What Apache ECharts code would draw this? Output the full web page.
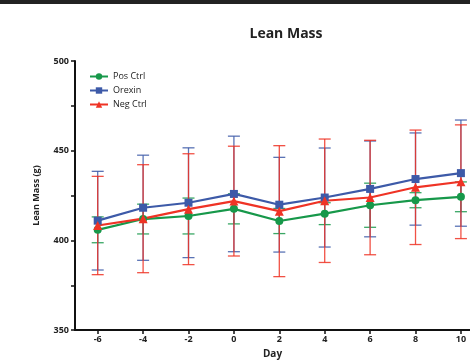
<!DOCTYPE html>
<html><head><meta charset="utf-8">
<script src="https://cdn.jsdelivr.net/npm/echarts@6/dist/echarts.min.js"></script>
<style>html,body{margin:0;padding:0;background:#fff}#c{width:470px;height:364px}</style>
</head><body><div id="c"></div>
<script>
var days = [-6, -4, -2, 0, 2, 4, 6, 8, 10];
var xTicks = [-6, -4, -2, 0, 2, 4, 6, 8, 10];
var yTicks = [350, 400, 450, 500];
var posCtrl = [405.9, 411.9, 413.6, 417.6, 410.8, 414.9, 419.6, 422.4, 424.3];
var posCtrlSd = [7.2, 8.3, 10.0, 8.4, 7.0, 6.1, 12.3, 4.2, 8.3];
var orexin = [411.0, 418.2, 421.0, 425.9, 419.9, 423.9, 428.7, 434.2, 437.5];
var orexinSd = [27.5, 29.3, 30.6, 32.2, 26.4, 27.6, 26.7, 25.7, 29.6];
var negCtrl = [408.3, 412.1, 417.4, 421.9, 416.3, 422.1, 423.9, 429.6, 432.7];
var negCtrlSd = [27.4, 30.1, 30.9, 30.6, 36.5, 34.4, 31.9, 31.9, 31.7];

var cGreen = '#17984a', cBlue = '#3d5aa8', cRed = '#ef3325';

function pts(v){ return days.map(function(d,i){ return [d, v[i]]; }); }
function errData(v, sd){ return days.map(function(d,i){ return [d, v[i]-sd[i], v[i]+sd[i]]; }); }
function errSeries(name, v, sd, color){
  return {
    type: 'custom', name: name + ' err', z: 1, silent: true,
    data: errData(v, sd),
    encode: { x: 0, y: [1, 2] },
    renderItem: function(params, api){
      var x = api.value(0);
      var lo = api.coord([x, api.value(1)]);
      var hi = api.coord([x, api.value(2)]);
      var w = 6;
      var st = { stroke: color, lineWidth: 1.3, opacity: 0.85 };
      return { type: 'group', children: [
        { type: 'line', shape: { x1: lo[0], y1: lo[1], x2: hi[0], y2: hi[1] }, style: st },
        { type: 'line', shape: { x1: lo[0]-w, y1: lo[1], x2: lo[0]+w, y2: lo[1] }, style: st },
        { type: 'line', shape: { x1: hi[0]-w, y1: hi[1], x2: hi[0]+w, y2: hi[1] }, style: st }
      ]};
    }
  };
}
function lineSeries(name, v, color, symbol, size){
  return { type: 'line', name: name, z: 3, data: pts(v), symbol: symbol, symbolSize: size,
    lineStyle: { color: color, width: 2.2 }, itemStyle: { color: color }, animation: false };
}

var chart = echarts.init(document.getElementById('c'));
chart.setOption({
  animation: false,
  title: { text: 'Lean Mass', left: 281, top: 22, textAlign: 'center',
    textStyle: { fontFamily: 'Open Sans', fontWeight: 'bold', fontSize: 14, color: '#222' } },
  graphic: [{ type: 'rect', shape: { x: 0, y: 0, width: 470, height: 4 }, style: { fill: '#222' } }],
  legend: { left: 84, top: 67, orient: 'vertical', itemGap: 5, itemWidth: 18, itemHeight: 8,
    data: ['Pos Ctrl', 'Orexin', 'Neg Ctrl'],
    textStyle: { fontFamily: 'Open Sans', fontSize: 9, color: '#222' } },
  grid: { left: 75, right: 0, top: 61, bottom: 31 },
  xAxis: { type: 'value', min: -7, max: 10.4,
    name: 'Day', nameLocation: 'middle', nameGap: 16,
    nameTextStyle: { fontFamily: 'Open Sans', fontWeight: 'bold', fontSize: 10, color: '#222' },
    axisLine: { onZero: false, lineStyle: { color: '#111', width: 2 } },
    axisTick: { show: true, length: 4, lineStyle: { color: '#111', width: 1.5 }, customValues: xTicks },
    axisLabel: { customValues: xTicks, fontFamily: 'Open Sans', fontWeight: 'bold', fontSize: 9, color: '#222', margin: 5 },
    splitLine: { show: false } },
  yAxis: { type: 'value', min: 350, max: 500, interval: 25,
    name: 'Lean Mass (g)', nameLocation: 'middle', nameGap: 34,
    nameTextStyle: { fontFamily: 'Open Sans', fontWeight: 'bold', fontSize: 9, color: '#222' },
    axisLine: { show: true, onZero: false, lineStyle: { color: '#111', width: 2 } },
    axisTick: { show: true, length: 4, lineStyle: { color: '#111', width: 1.5 } },
    axisLabel: { customValues: yTicks, fontFamily: 'Open Sans', fontWeight: 'bold', fontSize: 9, color: '#222', margin: 6 },
    splitLine: { show: false } },
  series: [
    errSeries('Pos Ctrl', posCtrl, posCtrlSd, cGreen),
    errSeries('Orexin', orexin, orexinSd, cBlue),
    errSeries('Neg Ctrl', negCtrl, negCtrlSd, cRed),
    lineSeries('Pos Ctrl', posCtrl, cGreen, 'circle', 8),
    lineSeries('Orexin', orexin, cBlue, 'rect', 8),
    lineSeries('Neg Ctrl', negCtrl, cRed, 'triangle', 9)
  ]
});
</script></body></html>
